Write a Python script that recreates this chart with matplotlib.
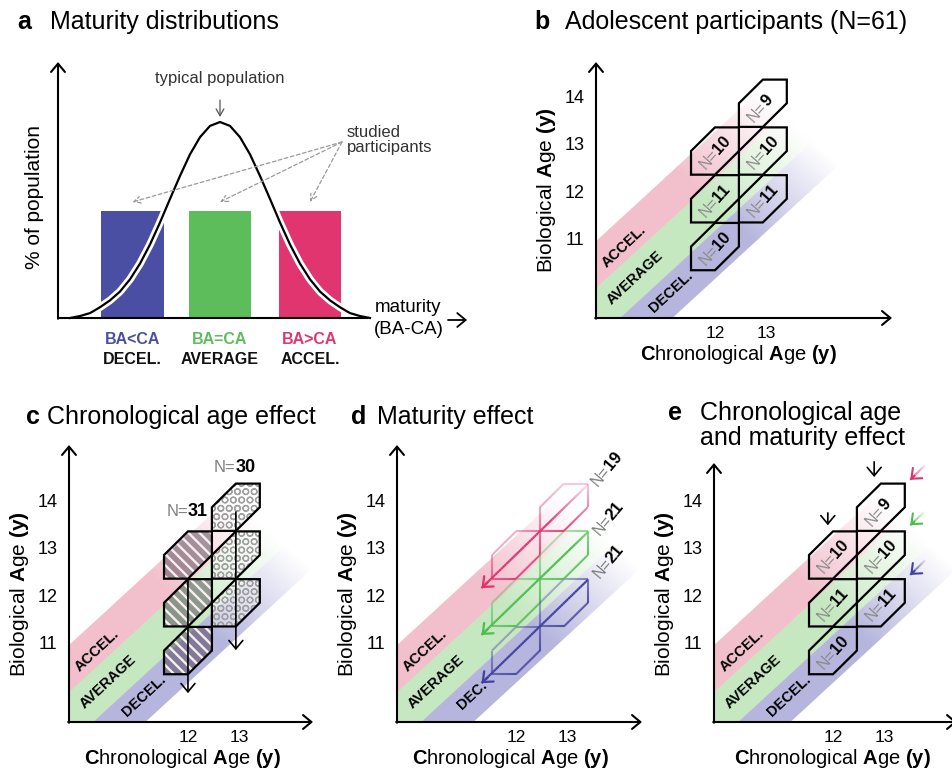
import numpy as np
import matplotlib.pyplot as plt
import matplotlib.patheffects as pe
from matplotlib.patches import Polygon
from matplotlib.collections import LineCollection

plt.rcParams['font.family'] = ['Liberation Sans', 'DejaVu Sans']
plt.rcParams['mathtext.fontset'] = 'custom'
plt.rcParams['mathtext.rm'] = 'Liberation Sans'
plt.rcParams['mathtext.bf'] = 'Liberation Sans:bold'

# ---------------- data ----------------
# panel a: maturity (BA-CA, SD units) vs % of population
curve_x = [-3.0, -2.8, -2.6, -2.4, -2.2, -2.0, -1.8, -1.6, -1.4, -1.2, -1.0, -0.8, -0.6, -0.4, -0.2, 0.0,
           0.2, 0.4, 0.6, 0.8, 1.0, 1.2, 1.4, 1.6, 1.8, 2.0, 2.2, 2.4, 2.6, 2.8, 3.0]
curve_y = [0.0, 0.4, 1.0, 2.2, 3.6, 5.4, 7.9, 11.1, 15.0, 19.5, 24.3, 29.0, 33.4, 36.9, 39.2, 40.0,
           39.2, 36.9, 33.4, 29.0, 24.3, 19.5, 15.0, 11.1, 7.9, 5.4, 3.6, 2.2, 1.0, 0.4, 0.0]
group_code = ['BA<CA', 'BA=CA', 'BA>CA']
group_name = ['DECEL.', 'AVERAGE', 'ACCEL.']
group_color = ['#4a4fa3', '#5dbd5b', '#e0356f']
bar_x = [-1.75, 0.0, 1.8]
bar_h = [21.8, 21.8, 21.8]

# maturity bands in the CA/BA plane, as BA-CA offsets (years)
band_name = ['ACCEL.', 'AVERAGE', 'DECEL.']
band_hi = [1.3, 0.3, -0.8]
band_lo = [0.3, -0.8, -1.82]
band_rgb = [(0.95, 0.75, 0.80), (0.78, 0.91, 0.76), (0.71, 0.71, 0.87)]
line_rgb = [(0.88, 0.2, 0.44), (0.3, 0.74, 0.3), (0.26, 0.26, 0.62)]
band_label_xy = [(10.24, 10.88), (10.45, 10.2), (11.14, 9.92)]

# participant groups: CA column, BA centre, band, N
cell_ca = [12.0, 12.0, 12.0, 12.93, 12.93, 12.93]
cell_ba = [10.87, 11.88, 12.89, 11.88, 12.89, 13.9]
cell_band = [2, 1, 0, 2, 1, 0]
cell_n = [10, 11, 10, 11, 10, 9]

# panel c: chronological age groups
ca_group_n = [31, 30]
ca_group_ca = [12.0, 12.93]
ca_label_ba = [13.8, 14.75]
ca_arrow_top = [12.39, 13.8]
ca_arrow_tip = [9.97, 10.88]

# panel d: maturity groups
mat_n = [19, 21, 21]
mat_label_xy = [(13.75, 14.75), (13.79, 13.7), (13.79, 12.79)]
mat_arrow_tail = [(13.39, 14.37), (13.39, 13.37), (13.39, 12.36)]
mat_arrow_tip = [(11.33, 12.19), (11.33, 11.2), (11.33, 10.18)]

# panel e: effect arrows
e_down_x = [11.9, 12.8]
e_down_top = [13.78, 14.86]
e_down_tip = [13.52, 14.54]
e_diag_tail = [(13.79, 14.79), (13.77, 13.8), (13.79, 12.78)]
e_diag_tip = [(13.5, 14.48), (13.5, 13.52), (13.5, 12.47)]

ba_ticks = [11, 12, 13, 14]
ca_ticks = [12, 13]

# ---------------- layout ----------------
W, H = 953, 771
fig = plt.figure(figsize=(W / 100, H / 100), dpi=100)

SX, SY = 51.5, 47.3          # px per year
CA0, BA0 = 9.69, 9.36        # value at the axes origin
CELL_W, CELL_H = 0.93, 1.0


def add_axes_px(l, r, t, b, xlim, ylim):
    ax = fig.add_axes([l / W, 1 - b / H, (r - l) / W, (b - t) / H])
    ax.set_xlim(*xlim)
    ax.set_ylim(*ylim)
    ax.axis('off')
    ax.patch.set_alpha(0)
    return ax


def age_axes(ox, oy):
    l, r, t, b = ox - 80, ox + 300, oy - 300, oy + 60
    return add_axes_px(l, r, t, b, (CA0 + (l - ox) / SX, CA0 + (r - ox) / SX),
                       (BA0 - (b - oy) / SY, BA0 + (oy - t) / SY))


def ftext(x, y, s, **kw):
    fig.text(x / W, 1 - y / H, s, **kw)


def title(x_letter, x_text, y, letter, text):
    ftext(x_letter, y, letter, fontsize=18, fontweight='bold', va='center')
    ftext(x_text, y, text, fontsize=18, va='center')


ARROW = dict(arrowstyle='->,head_length=0.3,head_width=0.25', mutation_scale=20,
             lw=1.5, color='k', shrinkA=0, shrinkB=0)


def hexagon(cx, cy):
    x0, x1 = cx - CELL_W / 2, cx + CELL_W / 2
    y0, y1 = cy - CELL_H / 2, cy + CELL_H / 2
    return [(x0, y0), (cx, y0), (x1, cy), (x1, y1), (cx, y1), (x0, cy)]


def draw_bands(ax, names):
    gx = np.linspace(CA0, CA0 + 6, 900)
    gy = np.linspace(BA0, BA0 + 6, 900)
    X, Y = np.meshgrid(gx, gy)
    D, U = Y - X, X + Y
    img = np.ones(X.shape + (4,))
    img[..., 3] = 0
    fade = np.clip((27.0 - U) / 3.3, 0, 1)
    for k in range(3):
        m = (D <= band_hi[k]) & (D > band_lo[k])
        img[m, :3] = band_rgb[k]
        img[m, 3] = fade[m]
    ax.imshow(img, extent=(CA0, CA0 + 6, BA0, BA0 + 6), origin='lower',
              aspect='auto', zorder=1, interpolation='bilinear')
    for k in range(3):
        ax.text(*band_label_xy[k], names[k], rotation=43, ha='center', va='center',
                fontsize=10.5, fontweight='bold', zorder=2)


def age_frame(ax, xend, yend, xlab_dx):
    ax.annotate('', xy=(xend, BA0), xytext=(CA0 - 0.015, BA0), arrowprops=ARROW, annotation_clip=False)
    ax.annotate('', xy=(CA0, yend), xytext=(CA0, BA0 - 0.015), arrowprops=ARROW, annotation_clip=False)
    for t in ba_ticks:
        ax.text(CA0 - 21 / SX, t, str(t), ha='center', va='center', fontsize=13)
    for t in ca_ticks:
        ax.text(t, BA0 - 16 / SY, str(t), ha='center', va='center', fontsize=12.5)
    ax.text(CA0 + xlab_dx / SX, BA0 - 37 / SY, r'$\mathbf{C}$hronological $\mathbf{A}$ge $\mathbf{(y)}$',
            ha='center', va='center', fontsize=14.5)
    ax.text(CA0 - 49 / SX, BA0 + 128 / SY, r'Biological $\mathbf{A}$ge $\mathbf{(y)}$',
            ha='center', va='center', rotation=90, fontsize=15)


def n_label(ax, x, y, n, rot=48, size=12, gray='#8a8a8a'):
    ax.text(x, y, 'N=', rotation=rot, rotation_mode='anchor', ha='right', va='center_baseline',
            color=gray, fontsize=size - 0.5, zorder=8)
    ax.text(x, y, str(n), rotation=rot, rotation_mode='anchor', ha='left', va='center_baseline',
            color='k', fontsize=size, fontweight='bold', zorder=8)


def grad_line(ax, pts, rgb, alpha_fn, lw=1.5, n=24, z=5):
    segs, cols = [], []
    for (xa, ya), (xb, yb) in zip(pts[:-1], pts[1:]):
        t = np.linspace(0, 1, n + 1)
        xs, ys = xa + (xb - xa) * t, ya + (yb - ya) * t
        for i in range(n):
            segs.append([(xs[i], ys[i]), (xs[i + 1], ys[i + 1])])
            a = float(alpha_fn(0.5 * (xs[i] + xs[i + 1]), 0.5 * (ys[i] + ys[i + 1])))
            cols.append((*rgb, a))
    ax.add_collection(LineCollection(segs, colors=cols, linewidths=lw, zorder=z, capstyle='butt'))


def cell_outlines(ax):
    for k in range(len(cell_n)):
        ax.add_patch(Polygon(hexagon(cell_ca[k], cell_ba[k]), closed=True, fill=False,
                             edgecolor='k', lw=1.6, zorder=6, joinstyle='miter'))


# ---------------- panel a ----------------
AX0, ASX, ASY = 220, 50, 4.9
axa = add_axes_px(0, 480, 40, 385, ((0 - AX0) / ASX, (480 - AX0) / ASX), ((318 - 385) / ASY, (318 - 40) / ASY))
xa0 = (58 - AX0) / ASX
axa.bar(bar_x, bar_h, width=1.25, color=group_color, zorder=2)
axa.plot(curve_x, curve_y, color='k', lw=1.6, zorder=3, solid_joinstyle='round',
         path_effects=[pe.Stroke(linewidth=5.5, foreground='white'), pe.Normal()])
axa.plot([xa0, (368 - AX0) / ASX], [0, 0], color='k', lw=1.5, zorder=4, solid_capstyle='butt')
axa.annotate('', xy=(xa0, (318 - 62) / ASY), xytext=(xa0, -0.15), arrowprops=ARROW)
axa.annotate('', xy=((467 - AX0) / ASX, (318 - 320) / ASY), xytext=((448 - AX0) / ASX, (318 - 320) / ASY),
             arrowprops=dict(ARROW, lw=1.3), annotation_clip=False)
axa.text((375 - AX0) / ASX, (318 - 308) / ASY, 'maturity', fontsize=13.5, va='center')
axa.text((374 - AX0) / ASX, (318 - 329) / ASY, '(BA-CA)', fontsize=13.5, va='center')
for k in range(3):
    axa.text(bar_x[k], (318 - 340) / ASY, group_code[k], color=group_color[k], fontsize=11.5,
             fontweight='bold', ha='center', va='center')
    axa.text(bar_x[k], (318 - 359) / ASY, group_name[k], color='#111111', fontsize=11.5,
             fontweight='bold', ha='center', va='center')
axa.text(0, (318 - 78) / ASY, 'typical population', fontsize=12, ha='center', va='center', color='#333333')
axa.annotate('', xy=(0, (318 - 117) / ASY), xytext=(0, (318 - 100) / ASY),
             arrowprops=dict(arrowstyle='->,head_length=0.35,head_width=0.2', mutation_scale=14,
                             lw=0.9, color='#555555', shrinkA=0, shrinkB=0))
axa.text((347 - AX0) / ASX, (318 - 140) / ASY, 'studied\nparticipants', fontsize=12, va='center',
         linespacing=0.95, color='#333333')
dash_start = ((342 - AX0) / ASX, (318 - 142) / ASY)
for k in range(3):
    axa.annotate('', xy=(bar_x[k], (318 - 202) / ASY), xytext=dash_start,
                 arrowprops=dict(arrowstyle='->,head_length=0.4,head_width=0.2', mutation_scale=12,
                                 lw=0.9, ls=(0, (3, 2)), color='#9a9a9a', shrinkA=0, shrinkB=0))
axa.text((35 - AX0) / ASX, (318 - 197) / ASY, '% of population', rotation=90, fontsize=15,
         ha='center', va='center')
title(17, 50, 22, 'a', 'Maturity distributions')

# ---------------- panel b ----------------
axb = age_axes(596, 318)
draw_bands(axb, band_name)
age_frame(axb, CA0 + 296 / SX, BA0 + 256 / SY, 142)
cell_outlines(axb)
for k in range(len(cell_n)):
    n_label(axb, cell_ca[k], cell_ba[k], cell_n[k])
title(534, 565, 22, 'b', 'Adolescent participants (N=61)')

# ---------------- panel c ----------------
axc = age_axes(69, 722)
draw_bands(axc, band_name)
age_frame(axc, CA0 + 244 / SX, BA0 + 277 / SY, 113)
for k in range(len(cell_n)):
    verts = hexagon(cell_ca[k], cell_ba[k])
    if cell_ca[k] == ca_group_ca[0]:
        axc.add_patch(Polygon(verts, closed=True, facecolor=(0.25, 0.2, 0.25, 0.45), edgecolor='none', zorder=3))
        with plt.rc_context({'hatch.linewidth': 1.7}):
            axc.add_patch(Polygon(verts, closed=True, fill=False, edgecolor='#f6eef2', hatch='\\\\\\',
                                  lw=0, zorder=4))
    else:
        axc.add_patch(Polygon(verts, closed=True, facecolor=(1, 1, 1, 0.35), edgecolor='none', zorder=3))
        with plt.rc_context({'hatch.linewidth': 0.9}):
            axc.add_patch(Polygon(verts, closed=True, fill=False, edgecolor='#a0a0a0', hatch='OO',
                                  lw=0, zorder=4))
cell_outlines(axc)
for j in range(2):
    axc.annotate('', xy=(ca_group_ca[j], ca_arrow_tip[j]), xytext=(ca_group_ca[j], ca_arrow_top[j]),
                 arrowprops=dict(ARROW, lw=1.2), zorder=5)
    axc.text(ca_group_ca[j], ca_label_ba[j], 'N=', ha='right', va='center', fontsize=12, color='#808080')
    axc.text(ca_group_ca[j], ca_label_ba[j], str(ca_group_n[j]), ha='left', va='center', fontsize=13,
             fontweight='bold')
title(26, 47, 417, 'c', 'Chronological age effect')

# ---------------- panel d ----------------
axd = age_axes(397, 722)
draw_bands(axd, ['ACCEL.', 'AVERAGE', 'DEC.'])
age_frame(axd, CA0 + 245 / SX, BA0 + 277 / SY, 113)


def d_alpha_fn(cx, cy):
    def f(x, y):
        rel = (y - cy) - (x - cx)
        return np.clip(0.65 - 0.5 * rel, 0.12, 1.0) * np.clip((28.6 - x - y) / 2.0, 0.3, 1.0)
    return f


for k in range(len(cell_n)):
    verts = hexagon(cell_ca[k], cell_ba[k])
    grad_line(axd, verts + [verts[0]], line_rgb[cell_band[k]], d_alpha_fn(cell_ca[k], cell_ba[k]), lw=1.5)
for b in range(3):
    tail, tip = mat_arrow_tail[b], mat_arrow_tip[b]
    grad_line(axd, [tail, tip], line_rgb[b], lambda x, y: np.clip((28.0 - x - y) / 1.8, 0.08, 1.0), lw=1.6, n=60)
    axd.annotate('', xy=tip, xytext=(tip[0] + 0.12, tip[1] + 0.12),
                 arrowprops=dict(ARROW, lw=1.6, color=line_rgb[b]), zorder=6)
    n_label(axd, *mat_label_xy[b], mat_n[b], rot=50, gray='#7a7a7a')
title(351, 377, 417, 'd', 'Maturity effect')

# ---------------- panel e ----------------
axe = age_axes(714, 722)
draw_bands(axe, band_name)
age_frame(axe, CA0 + 243 / SX, BA0 + 259 / SY, 118)
cell_outlines(axe)
for k in range(len(cell_n)):
    n_label(axe, cell_ca[k], cell_ba[k], cell_n[k])
for j in range(2):
    axe.annotate('', xy=(e_down_x[j], e_down_tip[j]), xytext=(e_down_x[j], e_down_top[j]),
                 arrowprops=dict(ARROW, lw=1.2))
for b in range(3):
    tail, tip = e_diag_tail[b], e_diag_tip[b]
    L = np.hypot(tail[0] - tip[0], tail[1] - tip[1])
    grad_line(axe, [tail, tip], line_rgb[b],
              lambda x, y, tp=tip, L=L: np.clip(1.0 - 0.9 * np.hypot(x - tp[0], y - tp[1]) / L, 0.1, 1.0),
              lw=1.5, n=20)
    axe.annotate('', xy=tip, xytext=(tip[0] + 0.08, tip[1] + 0.08),
                 arrowprops=dict(ARROW, lw=1.5, color=line_rgb[b]), annotation_clip=False)
ftext(668, 413, 'e', fontsize=18, fontweight='bold', va='center')
ftext(700, 413, 'Chronological age', fontsize=18, va='center')
ftext(700, 438, 'and maturity effect', fontsize=18, va='center')

fig.savefig('out.png', dpi=100)
